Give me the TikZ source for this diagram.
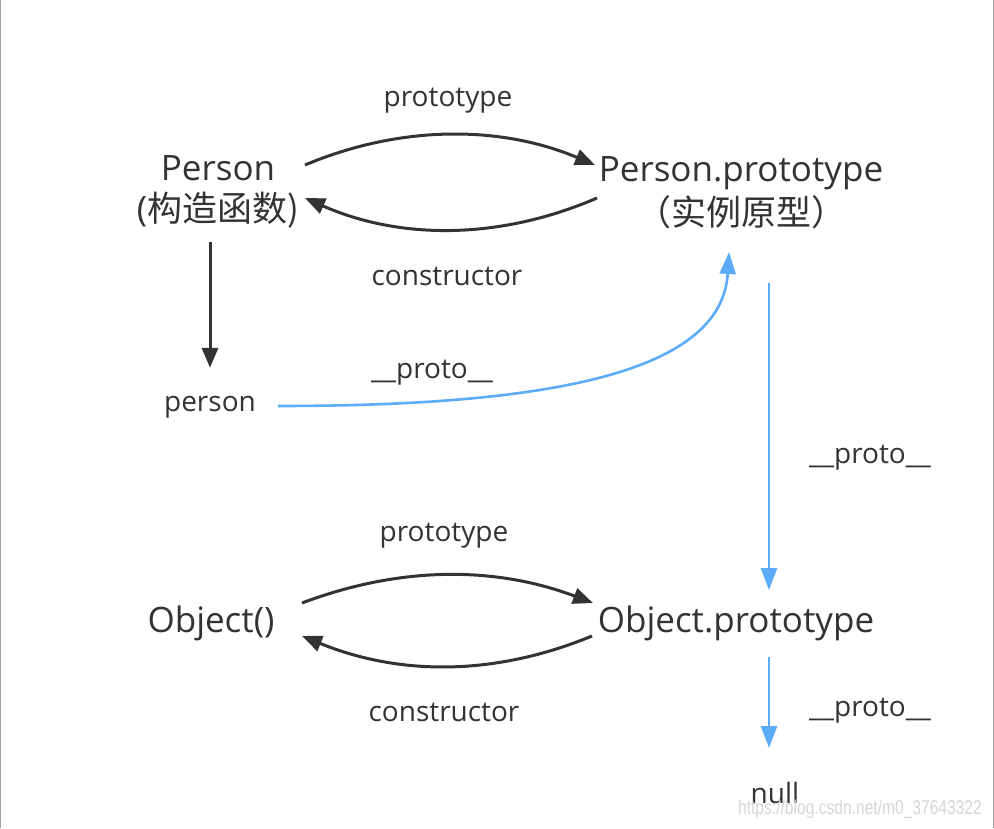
\documentclass[tikz,border=0pt]{standalone}
\usepackage{fontspec}
\setmainfont{Open Sans}
\newfontfamily\cjk{Noto Sans CJK SC}
\newfontfamily\wmfont{Liberation Sans}
\usetikzlibrary{arrows.meta}
\definecolor{txt}{RGB}{51,51,51}
\definecolor{blueline}{RGB}{92,172,250}
\definecolor{edge}{RGB}{160,160,160}
\tikzset{
  big/.style={font=\fontsize{35}{39}\selectfont, text=txt, inner sep=2pt},
  small/.style={font=\fontsize{28}{32}\selectfont, text=txt, inner sep=2pt},
  darr/.style={draw=txt, line width=3pt, -{Triangle[length=20pt,width=16pt]}},
  barr/.style={draw=blueline, line width=2.6pt, -{Triangle[length=22pt,width=16pt]}},
}
\begin{document}
\begin{tikzpicture}[x=1pt,y=-1pt]
\fill[white] (0,0) rectangle (994,828);
\useasboundingbox (0,0) rectangle (994,828);
\draw[edge, line width=1.2pt] (0.6,0) -- (0.6,828);
\draw[edge, line width=1.2pt] (993.4,0) -- (993.4,828);

% nodes
\node[big] (P) at (218,168) {Person};
\node[big] (Pc) at (218,210) {(\cjk 构造函数)};
\node[big] (PP) at (741,173) {Person.prototype};
\node[big] (PPc) at (741,212) {\cjk （实例原型）};
\node[small] (person) at (210,407) {person};
\node[big] (O) at (211,623) {Object()};
\node[big] (OP) at (736,623) {Object.prototype};
\node[small] (null) at (775,793) {null};

% labels
\node[small] (l1) at (448,101) {prototype};
\node[small] (l2) at (447,276) {constructor};
\node[small] (l3) at (432,373) {\_\_proto\_\_};
\node[small] (l4) at (870,458) {\_\_proto\_\_};
\node[small] (l5) at (444,536) {prototype};
\node[small] (l6) at (444,712) {constructor};
\node[small] (l7) at (870,711) {\_\_proto\_\_};

% watermark
\node[font=\wmfont\fontsize{20}{22}\selectfont, text=black!16, xscale=0.78, inner sep=0pt] (wm) at (860,809) {https://blog.csdn.net/m0\_37643322};

% connectors
\coordinate (a1s) at (305,165); \coordinate (a1e) at (595,165);
\draw[darr] (a1s) .. controls (400,125) and (500,125) .. (a1e);
\coordinate (a2s) at (597,198); \coordinate (a2e) at (305,198);
\draw[darr] (a2s) .. controls (500,240) and (400,240) .. (a2e);

\draw[darr] ([yshift=-12pt]Pc.south -| person.north) -- ([yshift=26pt]person.north);

\coordinate (b1s) at (278,406); \coordinate (b1e) at (729,252);
\draw[barr] (b1s) .. controls (560,406) and (722,370) .. (b1e);

\coordinate (b2s) at (769,283); \coordinate (b2e) at (769,590);
\draw[barr] (b2s) -- (b2e);

\coordinate (a3s) at (302,603); \coordinate (a3e) at (593,603);
\draw[darr] (a3s) .. controls (400,566) and (495,566) .. (a3e);
\coordinate (a4s) at (592,636); \coordinate (a4e) at (302,636);
\draw[darr] (a4s) .. controls (495,676) and (400,676) .. (a4e);

\coordinate (b3s) at (769,657); \coordinate (b3e) at (769,748);
\draw[barr] (b3s) -- (b3e);
\end{tikzpicture}
\end{document}
